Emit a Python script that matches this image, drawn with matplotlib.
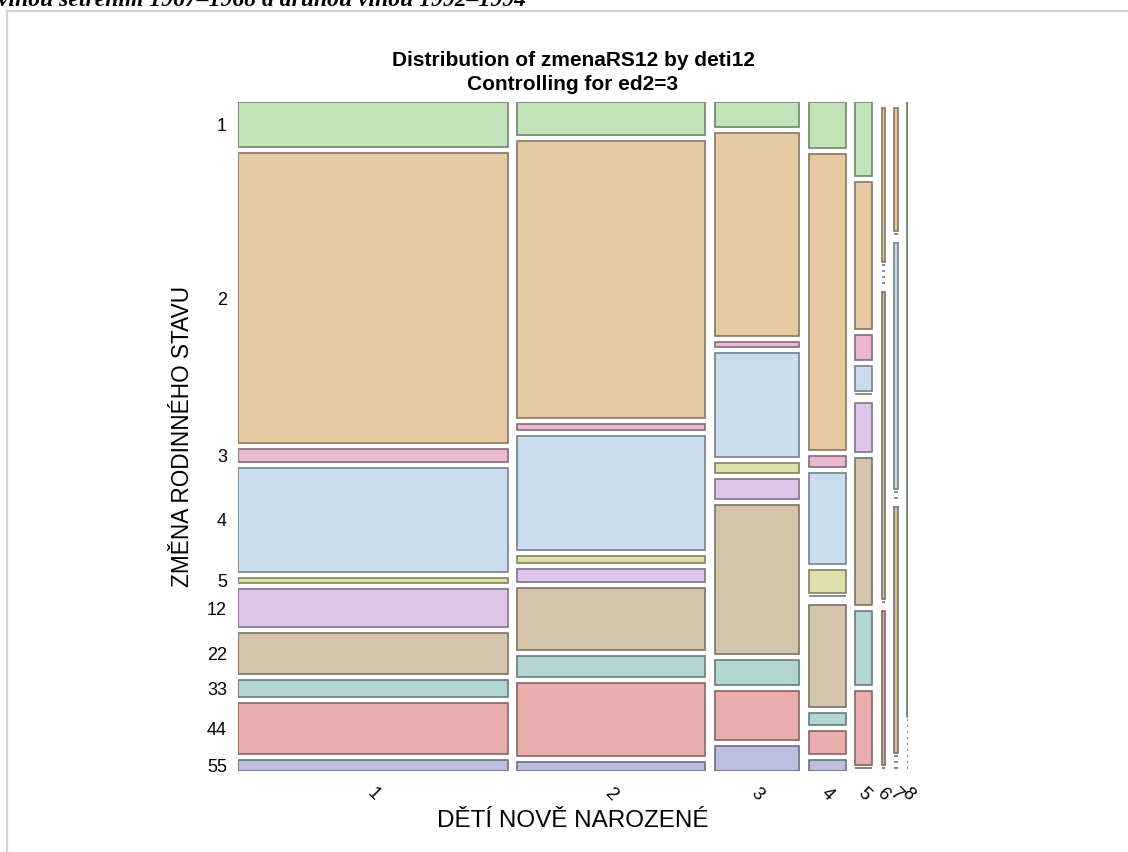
import matplotlib
matplotlib.use('Agg')
import matplotlib.pyplot as plt
from matplotlib.patches import Rectangle
from matplotlib.lines import Line2D
import matplotlib.colors as mcolors

plt.rcParams['font.family'] = ['Liberation Sans', 'DejaVu Sans']

# ---- data ----
col_labels = ['1', '2', '3', '4', '5', '6', '7', '8']
row_labels = ['1', '2', '3', '4', '5', '12', '22', '33', '44', '55']
row_colors = ['#c3e4b9', '#e6cba2', '#e8b9cf', '#c9ddef', '#dde0a9',
              '#dcc5e8', '#d5c4ac', '#b4d6d2', '#e9adad', '#b9c1dc']
counts_c1 = [29, 187, 8, 67, 3, 25, 26, 11, 33, 7]
counts_c2 = [15, 124, 3, 51, 3, 6, 28, 9, 33, 4]
counts_c3 = [5, 41, 1, 21, 2, 4, 30, 5, 10, 5]
counts_c4 = [4, 26, 1, 8, 2, 0, 9, 1, 2, 1]
counts_c5 = [3, 6, 1, 1, 0, 2, 6, 3, 3, 0]
counts_c6 = [0, 1, 0, 0, 0, 0, 2, 0, 1, 0]
counts_c7 = [0, 1, 0, 2, 0, 0, 2, 0, 0, 0]
counts_c8 = [1, 0, 0, 0, 0, 0, 0, 0, 0, 0]
columns = [counts_c1, counts_c2, counts_c3, counts_c4,
           counts_c5, counts_c6, counts_c7, counts_c8]

title1 = 'Distribution of zmenaRS12 by deti12'
title2 = 'Controlling for ed2=3'
xlabel = 'DĚTÍ NOVĚ NAROZENÉ'
ylabel = 'ZMĚNA RODINNÉHO STAVU'
top_text = 'vlnou šetřením 1967–1968 a druhou vlnou 1992–1994'

# ---- figure ----
W, H = 1128, 852
fig = plt.figure(figsize=(W / 100, H / 100), dpi=100)
fig.patch.set_facecolor('white')

# frame lines and cut-off top text
fig.add_artist(Line2D([7 / W, 7 / W], [0, 1 - 11 / H], color='#d4d4d4', lw=1.6,
                      transform=fig.transFigure))
fig.add_artist(Line2D([7 / W, 1], [1 - 11 / H, 1 - 11 / H], color='#d4d4d4', lw=1.6,
                      transform=fig.transFigure))
fig.text(-2 / W, 1 - 6 / H, top_text, family='Liberation Serif', weight='bold',
         style='italic', fontsize=17, va='baseline', ha='left')

ax = fig.add_axes([238 / W, 1 - 771 / H, 670 / W, 669 / H])
ax.set_xlim(0, 1)
ax.set_ylim(1, 0)
for s in ax.spines.values():
    s.set_visible(False)

gx = 9.6 / 670
gy = 6.0 / 669
col_tot = [sum(c) for c in columns]
total = sum(col_tot)
x_avail = 1 - gx * (len(columns) - 1)
y_avail = 1 - gy * (len(row_labels) - 1)

x = 0
xcenters = []
ycenters_first = []
for j, col in enumerate(columns):
    w = col_tot[j] / total * x_avail
    y = 0
    for i, cnt in enumerate(col):
        fc = mcolors.to_rgb(row_colors[i])
        ec = tuple(v * 0.58 for v in fc)
        h = cnt / col_tot[j] * y_avail
        if cnt > 0:
            ax.add_patch(Rectangle((x, y), w, h, facecolor=fc, edgecolor=ec, lw=1.2))
        else:
            ax.plot([x, x + max(w, 0.004)], [y - gy / 2, y - gy / 2], color=ec, lw=1.2,
                    solid_capstyle='butt')
        if j == 0:
            ycenters_first.append(y + h / 2)
        y += h + gy
    xcenters.append(x + w / 2)
    x += w + gx

ax.set_yticks(ycenters_first)
ax.set_yticklabels(row_labels, fontsize=13)
ax.set_xticks(xcenters)
ax.set_xticklabels(col_labels, fontsize=13, rotation=-45, ha='center', va='center')
ax.tick_params(length=0, pad=8)
ax.tick_params(axis='x', pad=17)
ax.set_xlabel(xlabel, fontsize=17.5, labelpad=4)
ax.set_ylabel(ylabel, fontsize=16.3, labelpad=9)

fig.text(573 / W, 1 - 60 / H, title1, ha='center', va='center', fontsize=15, weight='bold')
fig.text(573 / W, 1 - 84 / H, title2, ha='center', va='center', fontsize=15, weight='bold')

fig.savefig('out.png', dpi=100)
